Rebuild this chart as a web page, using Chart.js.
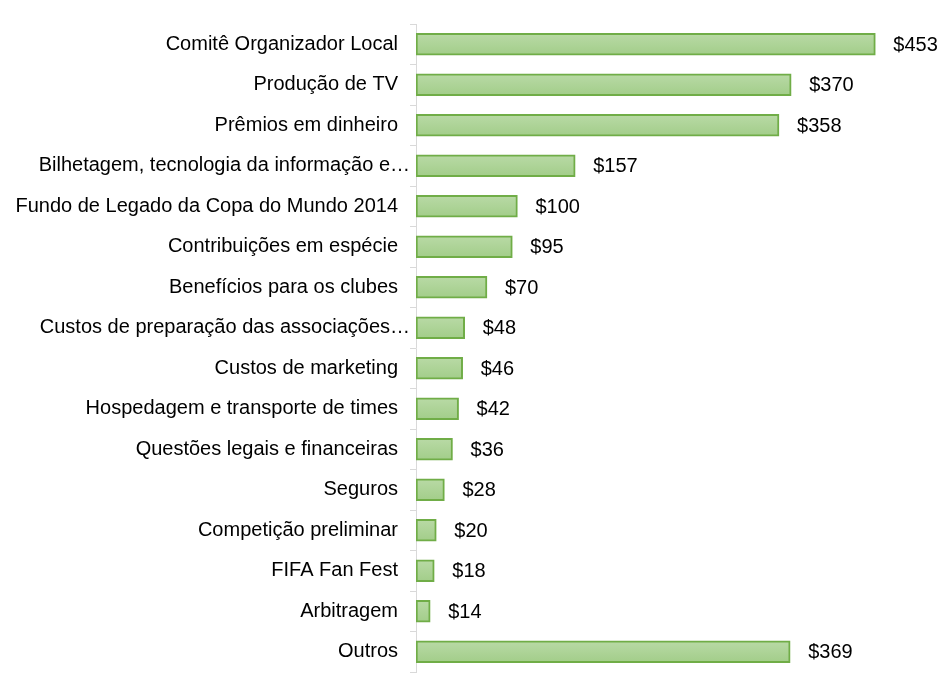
<!DOCTYPE html>
<html>
<head>
<meta charset="utf-8">
<script src="https://cdn.jsdelivr.net/npm/chart.js@4/dist/chart.umd.min.js"></script>
<style>
  html, body { margin: 0; padding: 0; background: #fff; }
  #wrap { width: 948px; height: 698px; }
</style>
</head>
<body>
<div id="wrap"><canvas id="chart" width="948" height="698"></canvas></div>
<script>
// ── Data ──
const categories = [
  'Comitê Organizador Local',
  'Produção de TV',
  'Prêmios em dinheiro',
  'Bilhetagem, tecnologia da informação e…',
  'Fundo de Legado da Copa do Mundo 2014',
  'Contribuições em espécie',
  'Benefícios para os clubes',
  'Custos de preparação das associações…',
  'Custos de marketing',
  'Hospedagem e transporte de times',
  'Questões legais e financeiras',
  'Seguros',
  'Competição preliminar',
  'FIFA Fan Fest',
  'Arbitragem',
  'Outros'
];
const values = [453, 370, 358, 157, 100, 95, 70, 48, 46, 42, 36, 28, 20, 18, 14, 369];
const valueLabels = values.map(v => '$' + v);

const FONT = 'Liberation Sans, Arial, sans-serif';
const AXIS_GRAY = '#d9d9d9';

// ── Gradient fill per bar ──
function barFill(ctx) {
  const chart = ctx.chart;
  const y = chart.scales.y;
  if (!chart.chartArea || !y || ctx.dataIndex === undefined) return '#abd294';
  const cy = y.getPixelForValue(ctx.dataIndex);
  const g = chart.ctx.createLinearGradient(0, cy - 11, 0, cy + 11);
  g.addColorStop(0, '#b9daa6');
  g.addColorStop(1, '#a2cd89');
  return g;
}

// ── Truncated labels run up to the axis, like the original ──
const truncShiftPlugin = {
  id: 'truncShift',
  beforeDraw(chart) {
    chart.scales.y.getLabelItems().forEach(item => {
      if (!item._shifted && String(item.label).endsWith('…')) {
        item.options.translation[0] += 12;
        item._shifted = true;
      }
    });
  }
};

// ── Value labels ──
const valueLabelPlugin = {
  id: 'valueLabels',
  afterDatasetsDraw(chart) {
    const ctx = chart.ctx;
    const meta = chart.getDatasetMeta(0);
    ctx.save();
    ctx.font = '20px ' + FONT;
    ctx.fillStyle = '#000';
    ctx.textAlign = 'left';
    ctx.textBaseline = 'middle';
    meta.data.forEach((bar, i) => {
      ctx.fillText(valueLabels[i], bar.x + 18, bar.y + 1);
    });
    ctx.restore();
  }
};

new Chart(document.getElementById('chart').getContext('2d'), {
  type: 'bar',
  data: {
    labels: categories,
    datasets: [{
      data: values,
      backgroundColor: barFill,
      borderColor: '#70ad47',
      borderWidth: 2,
      borderSkipped: false,
      barThickness: 22
    }]
  },
  plugins: [truncShiftPlugin, valueLabelPlugin],
  options: {
    indexAxis: 'y',
    responsive: false,
    animation: false,
    layout: { padding: { top: 24, right: 25, bottom: 26, left: 0 } },
    plugins: {
      legend: { display: false },
      tooltip: { enabled: false }
    },
    scales: {
      x: {
        display: false,
        min: 0,
        max: 500
      },
      y: {
        afterFit: s => { s.width = 416; },
        border: { display: true, color: AXIS_GRAY, width: 1 },
        grid: {
          offset: true,
          drawOnChartArea: false,
          drawTicks: true,
          tickLength: 6,
          color: AXIS_GRAY
        },
        ticks: {
          padding: 12,
          color: '#000',
          font: { family: FONT, size: 20 },
          autoSkip: false
        }
      }
    }
  }
});
</script>
</body>
</html>
